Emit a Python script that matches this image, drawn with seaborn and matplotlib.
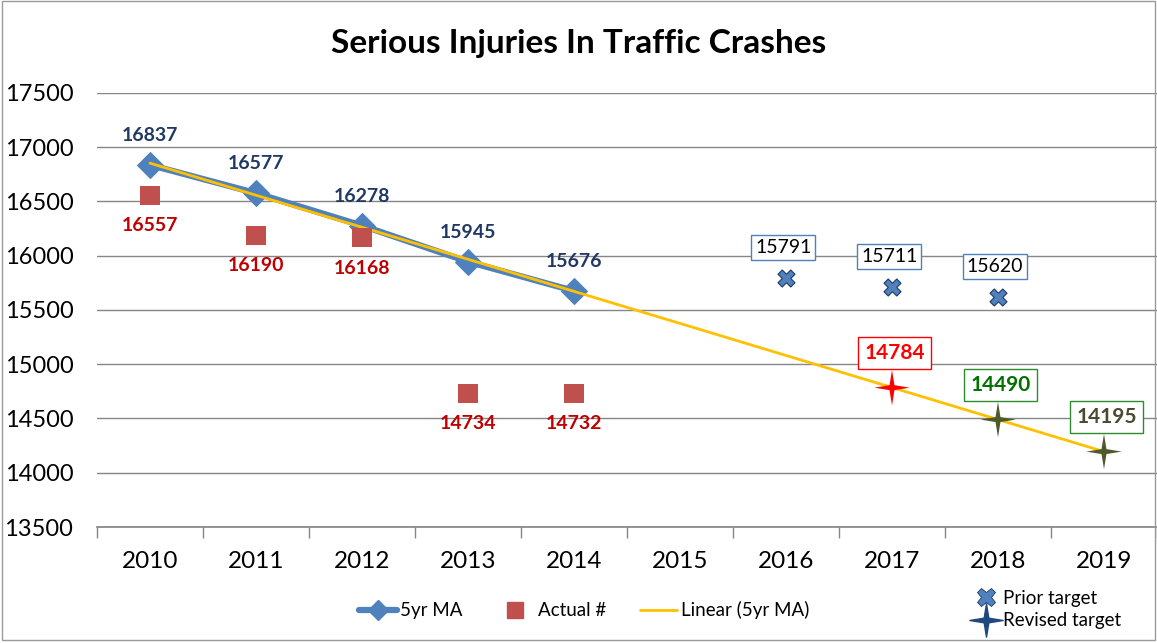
import numpy as np
import pandas as pd
import matplotlib
matplotlib.use("Agg")
import matplotlib.pyplot as plt
import seaborn as sns
from matplotlib.lines import Line2D
from matplotlib.path import Path
from matplotlib.ticker import FixedLocator

years = [2010, 2011, 2012, 2013, 2014, 2015, 2016, 2017, 2018, 2019]
ma_years = [2010, 2011, 2012, 2013, 2014]
ma_values = [16837, 16577, 16278, 15945, 15676]
actual_values = [16557, 16190, 16168, 14734, 14732]
prior_years = [2016, 2017, 2018]
prior_values = [15791, 15711, 15620]
revised_years = [2017, 2018, 2019]
revised_values = [14784, 14490, 14195]

sns.set_theme(style="white")
plt.rcParams["font.family"] = ["Lato", "DejaVu Sans"]
plt.rcParams["text.color"] = "black"
plt.rcParams["xtick.color"] = "black"
plt.rcParams["ytick.color"] = "black"

# thin four-point star like the Excel marker
star = Path([(0, 1), (0.14, 0.14), (1, 0), (0.14, -0.14), (0, -1),
             (-0.14, -0.14), (-1, 0), (-0.14, 0.14), (0, 1)],
            [Path.MOVETO] + [Path.LINETO] * 7 + [Path.CLOSEPOLY])

fig = plt.figure(figsize=(11.57, 6.43), dpi=100)
ax = fig.add_axes([0.0838, 0.1804, 0.9162, 0.675])

ma_df = pd.DataFrame({"year": ma_years, "ma": ma_values, "actual": actual_values})

# linear trend of the moving average, extended to 2019
coef = np.polyfit(ma_years, ma_values, 1)
trend_x = np.array([years[0], years[-1]])
ax.plot(trend_x, np.polyval(coef, trend_x), color="#ffc000", lw=2, zorder=4)

sns.lineplot(data=ma_df, x="year", y="ma", ax=ax, color="#4f81bd", lw=4.5,
             marker="D", markersize=13, markeredgecolor="#4f81bd", zorder=3)
sns.scatterplot(data=ma_df, x="year", y="actual", ax=ax, color="#c0504d",
                marker="s", s=190, edgecolor="none", zorder=5)
sns.scatterplot(x=prior_years, y=prior_values, ax=ax, color="#4f81bd",
                marker="X", s=150, edgecolor="#1f3864", linewidth=0.8, zorder=5)
rev_colors = ["#ff0000", "#4f5a2a", "#4f5a2a"]
sns.scatterplot(x=revised_years, y=revised_values, ax=ax, hue=revised_years,
                palette=rev_colors, marker=star, s=650, edgecolor="none",
                legend=False, zorder=6)

# data labels
for x, v in zip(ma_years, ma_values):
    ax.annotate(str(v), (x, v), xytext=(0, 21), textcoords="offset points",
                ha="center", va="center", fontsize=14, fontweight="bold",
                color="#1f3864")
for x, v in zip(ma_years, actual_values):
    ax.annotate(str(v), (x, v), xytext=(0, -22), textcoords="offset points",
                ha="center", va="center", fontsize=14, fontweight="bold",
                color="#c00000")
for x, v in zip(prior_years, prior_values):
    ax.annotate(str(v), (x, v), xytext=(-2, 22), textcoords="offset points",
                ha="center", va="center", fontsize=14, color="black",
                bbox=dict(boxstyle="square,pad=0.2", fc="white", ec="#4f81bd", lw=1))
rev_text = ["#ff0000", "#007000", "#4a4a30"]
rev_box = ["#ff0000", "#2e8b2e", "#2e8b2e"]
for x, v, tc, bc in zip(revised_years, revised_values, rev_text, rev_box):
    ax.annotate(str(v), (x, v), xytext=(2, 25), textcoords="offset points",
                ha="center", va="center", fontsize=15, fontweight="bold", color=tc,
                bbox=dict(boxstyle="square,pad=0.3", fc="white", ec=bc, lw=1))

# axes styling
ax.set_xlim(2009.5, 2019.5)
ax.set_ylim(13500, 17500)
ax.set_yticks(np.arange(13500, 17501, 500))
ax.set_xticks(years)
ax.set_xticklabels([str(y) for y in years])
ax.xaxis.set_minor_locator(FixedLocator(np.arange(2009.5, 2019.6, 1)))
ax.tick_params(axis="x", which="major", length=0, pad=17, labelsize=17.5)
ax.tick_params(axis="x", which="minor", length=8, width=1, color="#868686",
               direction="out", bottom=True)
ax.tick_params(axis="y", length=0, pad=17, labelsize=17)
ax.yaxis.grid(True, color="#868686", lw=1)
ax.set_axisbelow(True)
for s in ["top", "right", "left"]:
    ax.spines[s].set_visible(False)
ax.spines["bottom"].set_color("#868686")
ax.set_xlabel("")
ax.set_ylabel("")

fig.suptitle("Serious Injuries In Traffic Crashes", x=0.5, y=0.955,
             fontsize=24, fontweight="bold")

# legends
h1 = [Line2D([], [], color="#4f81bd", lw=4.5, marker="D", markersize=10),
      Line2D([], [], color="#c0504d", lw=0, marker="s", markersize=12),
      Line2D([], [], color="#ffc000", lw=2)]
fig.legend(h1, ["5yr MA", "Actual #", "Linear (5yr MA)"], loc="center",
           bbox_to_anchor=(0.505, 0.051), ncol=3, frameon=False, fontsize=13.5,
           handlelength=2.0, handletextpad=0.2, columnspacing=1.8)
h2 = [Line2D([], [], color="#4f81bd", lw=0, marker="X", markersize=13,
             markeredgecolor="#1f3864", markeredgewidth=0.6),
      Line2D([], [], color="#1f497d", lw=0, marker=star, markersize=24)]
fig.legend(h2, ["Prior target", "Revised target"], loc="center left",
           bbox_to_anchor=(0.828, 0.052), ncol=1, frameon=False, fontsize=13.5,
           handlelength=1.2, handletextpad=0.3, labelspacing=0.3)

# chart border
fig.patches.append(plt.Rectangle((0.002, 0.004), 0.996, 0.995, transform=fig.transFigure,
                                 fill=False, ec="#9a9a9a", lw=1))

fig.savefig("out.png", dpi=100)
